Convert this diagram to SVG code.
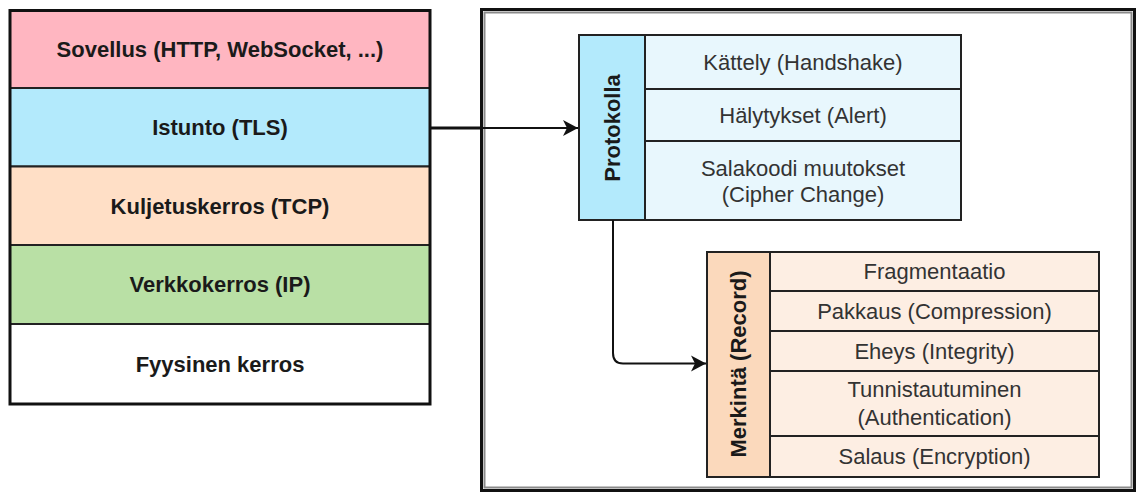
<svg xmlns="http://www.w3.org/2000/svg" width="1136" height="492" viewBox="0 0 1136 492">
<style>
.b{font-family:"Liberation Sans",Arial,sans-serif;font-size:22px;font-weight:bold;fill:#1a1a1a;text-anchor:middle}
.t{font-family:"Liberation Sans",Arial,sans-serif;font-size:22px;fill:#333;text-anchor:middle}
.lay{stroke:#222;stroke-width:2}
.cell{stroke:#222;stroke-width:2}
.edge{fill:none;stroke:#111;stroke-width:2}
</style>
<defs>
<marker id="arr" markerWidth="16" markerHeight="18" refX="15" refY="9" orient="auto" markerUnits="userSpaceOnUse">
<path d="M15,9 L0,1 L4,9 L0,17 Z" fill="#111"/>
</marker>
</defs>
<rect width="1136" height="492" fill="#fff"/>

<g id="container">
<rect x="481.5" y="9.5" width="653" height="481" fill="#fff" stroke="#111" stroke-width="3"/>
<rect x="484.5" y="12.5" width="647" height="475" fill="none" stroke="#8a8a8a" stroke-width="2"/>
</g>

<g id="stack">
<g id="sovellus"><rect class="lay" x="10" y="10" width="420" height="78" fill="#FFB6C1"/><text class="b" x="220" y="57">Sovellus (HTTP, WebSocket, ...)</text></g>
<g id="istunto"><rect class="lay" x="10" y="88" width="420" height="78.5" fill="#B3EAFC"/><text class="b" x="220" y="135">Istunto (TLS)</text></g>
<g id="kuljetus"><rect class="lay" x="10" y="166.5" width="420" height="78.5" fill="#FFDFC6"/><text class="b" x="220" y="214">Kuljetuskerros (TCP)</text></g>
<g id="verkko"><rect class="lay" x="10" y="245" width="420" height="79" fill="#B9E0A5"/><text class="b" x="220" y="292">Verkkokerros (IP)</text></g>
<g id="fyysinen"><rect class="lay" x="10" y="324" width="420" height="80" fill="#fff"/><text class="b" x="220" y="372">Fyysinen kerros</text></g>
<rect x="10" y="10.5" width="420" height="393.5" fill="none" stroke="#111" stroke-width="3"/>
</g>

<g id="protokolla">
<rect class="cell" x="579" y="35" width="66" height="185" fill="#B3EAFC"/>
<text class="b" transform="translate(620,128) rotate(-90)">Protokolla</text>
<rect class="cell" x="645" y="35" width="316" height="54" fill="#E8F7FD"/>
<text class="t" x="803" y="70">Kättely (Handshake)</text>
<rect class="cell" x="645" y="89" width="316" height="52" fill="#E8F7FD"/>
<text class="t" x="803" y="123">Hälytykset (Alert)</text>
<rect class="cell" x="645" y="141" width="316" height="79" fill="#E8F7FD"/>
<text class="t" x="803" y="176">Salakoodi muutokset</text>
<text class="t" x="803" y="202">(Cipher Change)</text>
</g>

<g id="merkinta">
<rect class="cell" x="707" y="252" width="63" height="225" fill="#FBD9BC"/>
<text class="b" transform="translate(746,364) rotate(-90)">Merkintä (Record)</text>
<rect class="cell" x="770" y="252" width="329" height="39" fill="#FDEEE3"/>
<text class="t" x="934.5" y="279">Fragmentaatio</text>
<rect class="cell" x="770" y="291" width="329" height="40" fill="#FDEEE3"/>
<text class="t" x="934.5" y="319">Pakkaus (Compression)</text>
<rect class="cell" x="770" y="331" width="329" height="40" fill="#FDEEE3"/>
<text class="t" x="934.5" y="359">Eheys (Integrity)</text>
<rect class="cell" x="770" y="371" width="329" height="65" fill="#FDEEE3"/>
<text class="t" x="934.5" y="397">Tunnistautuminen</text>
<text class="t" x="934.5" y="425">(Authentication)</text>
<rect class="cell" x="770" y="436" width="329" height="41" fill="#FDEEE3"/>
<text class="t" x="934.5" y="464">Salaus (Encryption)</text>
</g>

<g id="connectors">
<line x1="431" y1="128" x2="482" y2="128" stroke="#111" stroke-width="3"/>
<path class="edge" d="M482,128 L578,128" marker-end="url(#arr)"/>
<path class="edge" d="M613,220 L613,353 Q613,363.5 623,363.5 L706,363.5" marker-end="url(#arr)"/>
</g>
</svg>
